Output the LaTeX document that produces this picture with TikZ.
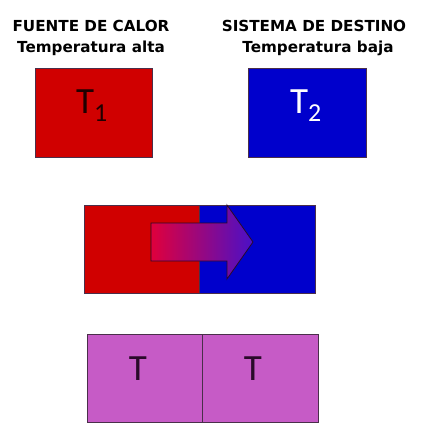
\documentclass[tikz,border=0pt]{standalone}
\usepackage{fontspec}
\setmainfont{DejaVu Sans}
\newfontfamily\tfont{Carlito}
\usetikzlibrary{positioning,calc}
\definecolor{calorred}{HTML}{D00000}
\definecolor{destblue}{HTML}{0000CC}
\definecolor{eqmagenta}{HTML}{C65BC6}
\definecolor{arrowred}{HTML}{E0003C}
\definecolor{arrowblue}{HTML}{4A10C8}
\definecolor{edgedark}{HTML}{2A0A2A}

\begin{document}
\begin{tikzpicture}[
    x=1pt, y=-1pt,
    title/.style={font=\fontsize{15.2}{17}\selectfont\bfseries, anchor=base, inner sep=0pt},
    box/.style={draw=edgedark!85, line width=1.2pt, anchor=north west, inner sep=0pt,
                minimum height=88pt},
    temp/.style={font=\tfont\fontsize{37}{40}\selectfont, anchor=base, inner sep=0pt},
]
\useasboundingbox (0,0) rectangle (421,442);

% cuerpos antes del contacto
\node[title] (fuente) at (91,31) {FUENTE DE CALOR};
\node[title] (alta) at (91,52) {Temperatura alta};
\node[title] (sistema) at (314,31) {SISTEMA DE DESTINO};
\node[title] (baja) at (318,52) {Temperatura baja};

\node[box, fill=calorred, minimum width=117pt, minimum height=89pt] (caliente) at (35,68) {};
\node[box, fill=destblue, minimum width=118pt, minimum height=89pt] (frio) at (248,68) {};
\node[temp, text=black!85!calorred] (t1) at (92,113) {T\textsubscript{1}};
\node[temp, text=white] (t2) at (306,113) {T\textsubscript{2}};

% contacto y flujo de calor
\node[box, fill=calorred, minimum width=115pt] (contactoA) at (84,205) {};
\node[box, fill=destblue, minimum width=116pt] (contactoB) at (199,205) {};
\shadedraw[left color=arrowred, right color=arrowblue, draw=edgedark, line width=0.8pt]
    (151,223) -- (227,223) -- (227,205) -- (253,242) -- (227,279) -- (227,261) -- (151,261) -- cycle;

% equilibrio termico
\node[box, fill=eqmagenta, minimum width=115pt] (equilA) at (87,334) {};
\node[box, fill=eqmagenta, minimum width=116pt] (equilB) at (202,334) {};
\node[temp, text=edgedark] (ta) at (138,380) {T};
\node[temp, text=edgedark] (tb) at (253,380) {T};
\end{tikzpicture}
\end{document}
